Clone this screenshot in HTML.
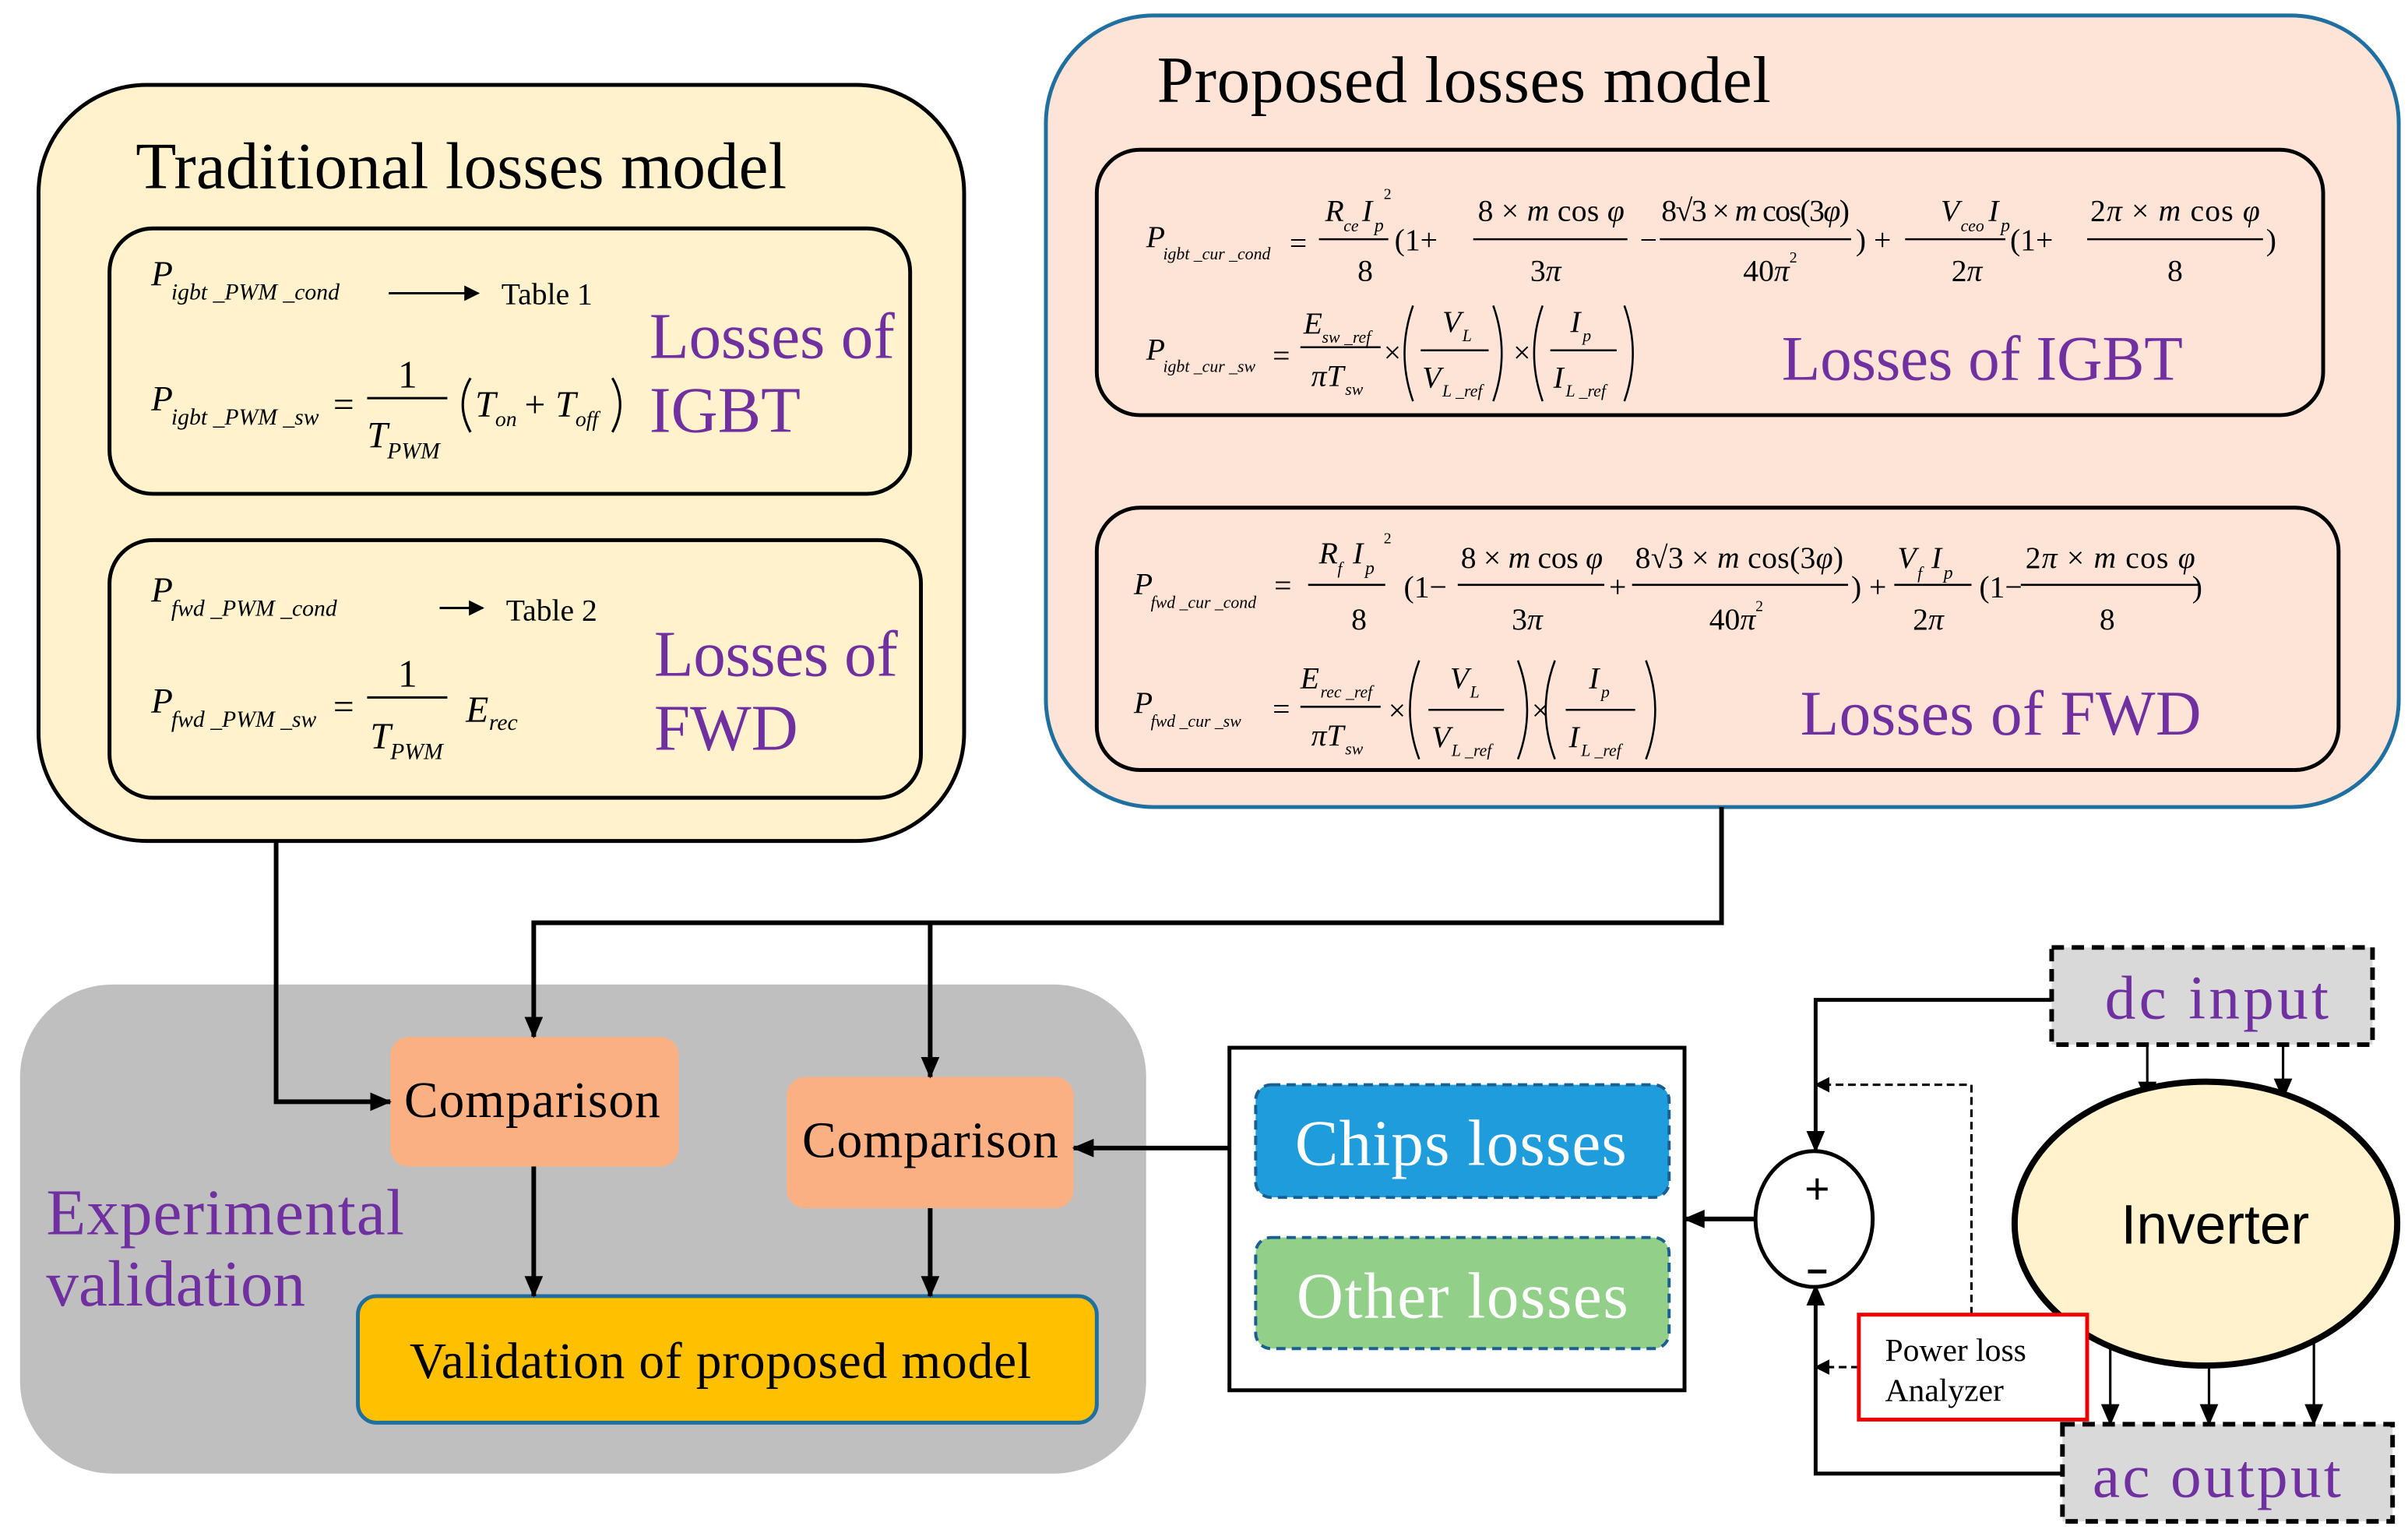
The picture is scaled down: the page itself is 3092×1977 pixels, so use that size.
<!DOCTYPE html>
<html><head><meta charset="utf-8"><style>
html,body{margin:0;padding:0;background:#fff;}
svg{display:block;}
text{font-family:"Liberation Serif",serif;}
.i{font-style:italic;}
.s{font-family:"Liberation Sans",sans-serif;}
.pu{fill:#7030a0;}
</style></head><body>
<svg width="3092" height="1977" viewBox="0 0 1561 998" xmlns="http://www.w3.org/2000/svg">
<defs>
<marker id="a" markerWidth="10" markerHeight="10" refX="9" refY="5" orient="auto" markerUnits="userSpaceOnUse"><path d="M0,0 L10,5 L0,10 z" fill="#000"/></marker>
<marker id="b" markerWidth="14" markerHeight="12" refX="13" refY="6" orient="auto" markerUnits="userSpaceOnUse"><path d="M0,0 L14,6 L0,12 z" fill="#000"/></marker>
</defs>

<!-- Traditional -->
<rect x="25" y="55" width="600" height="490" rx="70" fill="#fff2cc" stroke="#000" stroke-width="2.5"/>
<text x="88" y="122" font-size="43" textLength="422">Traditional losses model</text>
<rect x="71" y="148" width="519" height="172" rx="28" fill="none" stroke="#000" stroke-width="2.5"/>
<rect x="71" y="350" width="526" height="167" rx="28" fill="none" stroke="#000" stroke-width="2.5"/>
<text x="98" y="185" font-size="23" class="i">P</text><text x="111" y="194" font-size="15" class="i">igbt _PWM _cond</text>
<text x="98" y="266" font-size="23" class="i">P</text><text x="111" y="275" font-size="15" class="i">igbt _PWM _sw</text>
<text x="98" y="390" font-size="23" class="i">P</text><text x="111" y="399" font-size="15" class="i">fwd _PWM _cond</text>
<text x="98" y="462" font-size="23" class="i">P</text><text x="111" y="471" font-size="15" class="i">fwd _PWM _sw</text>
<line x1="252" y1="190" x2="310" y2="190" stroke="#000" stroke-width="1.5" marker-end="url(#a)"/>
<text x="325" y="197" font-size="20">Table 1</text>
<line x1="285" y1="394" x2="313" y2="394" stroke="#000" stroke-width="1.5" marker-end="url(#a)"/>
<text x="328" y="402" font-size="20">Table 2</text>
<text x="216" y="270" font-size="24">=</text>
<text x="258" y="251" font-size="25">1</text>
<line x1="238" y1="258" x2="290" y2="258" stroke="#000" stroke-width="1.5"/>
<text x="238" y="290" font-size="24" class="i">T</text><text x="251" y="297" font-size="15" class="i">PWM</text>
<path d="M305,245 Q295,262 305,280" fill="none" stroke="#000" stroke-width="1.6"/>
<text x="308" y="270" font-size="24" class="i">T</text><text x="321" y="276" font-size="14" class="i">on</text>
<text x="340" y="270" font-size="24">+</text>
<text x="360" y="270" font-size="24" class="i">T</text><text x="373" y="276" font-size="14" class="i">off</text>
<path d="M397,245 Q407,262 397,280" fill="none" stroke="#000" stroke-width="1.6"/>
<text x="216" y="466" font-size="24">=</text>
<text x="258" y="445" font-size="25">1</text>
<line x1="238" y1="452" x2="290" y2="452" stroke="#000" stroke-width="1.5"/>
<text x="240" y="485" font-size="24" class="i">T</text><text x="253" y="492" font-size="15" class="i">PWM</text>
<text x="302" y="468" font-size="24" class="i">E</text><text x="317" y="473" font-size="15" class="i">rec</text>
<text x="421" y="232" font-size="42" class="pu" textLength="159">Losses of</text>
<text x="421" y="280" font-size="42" class="pu">IGBT</text>
<text x="424" y="438" font-size="42" class="pu" textLength="158">Losses of</text>
<text x="424" y="486" font-size="42" class="pu">FWD</text>

<!-- Proposed -->
<rect x="678" y="10" width="877" height="513" rx="70" fill="#fde4d6" stroke="#1f6fa0" stroke-width="2.5"/>
<text x="750" y="66" font-size="43" textLength="398">Proposed losses model</text>
<rect x="711" y="97" width="795" height="172" rx="28" fill="none" stroke="#000" stroke-width="2.5"/>
<rect x="711" y="329" width="805" height="170" rx="28" fill="none" stroke="#000" stroke-width="2.5"/>
<g font-size="20" stroke="#000" stroke-width="1.3" fill="none">
<g fill="#000" stroke="none">
<!-- IGBT line1 -->
<text x="743" y="160" class="i">P</text><text x="754" y="168" font-size="11" class="i">igbt _cur _cond</text>
<text x="836" y="164">=</text>
<text x="859" y="143" class="i">R</text><text x="871" y="150" font-size="11" class="i">ce</text><text x="883" y="143" class="i">I</text><text x="891" y="150" font-size="12" class="i">p</text><text x="897" y="129" font-size="10">2</text>
<text x="880" y="182">8</text>
<text x="904" y="162">(1+</text>
<text x="958" y="143" textLength="95">8 × <tspan class="i">m</tspan> cos <tspan class="i">φ</tspan></text>
<text x="992" y="182">3<tspan class="i">π</tspan></text>
<text x="1063" y="162">−</text>
<text x="1077" y="143" textLength="122">8√3 × <tspan class="i">m</tspan> cos(3<tspan class="i">φ</tspan>)</text>
<text x="1130" y="182">40<tspan class="i">π</tspan><tspan font-size="10" dy="-12">2</tspan></text>
<text x="1203" y="162">) +</text>
<text x="1258" y="143" class="i">V</text><text x="1271" y="150" font-size="11" class="i">ceo</text><text x="1289" y="143" class="i">I</text><text x="1297" y="150" font-size="12" class="i">p</text>
<text x="1265" y="182">2<tspan class="i">π</tspan></text>
<text x="1303" y="162">(1+</text>
<text x="1355" y="143" textLength="110">2<tspan class="i">π</tspan> × <tspan class="i">m</tspan> cos <tspan class="i">φ</tspan></text>
<text x="1405" y="182">8</text>
<text x="1469" y="162">)</text>
<!-- IGBT line2 -->
<text x="743" y="233" class="i">P</text><text x="754" y="241" font-size="11" class="i">igbt _cur _sw</text>
<text x="825" y="237">=</text>
<text x="845" y="216" class="i">E</text><text x="857" y="222" font-size="11" class="i">sw _ref</text>
<text x="850" y="250" class="i">πT</text><text x="872" y="256" font-size="11" class="i">sw</text>
<text x="897" y="235">×</text>
<text x="935" y="215" class="i">V</text><text x="948" y="221" font-size="11" class="i">L</text>
<text x="922" y="251" class="i">V</text><text x="935" y="257" font-size="11" class="i">L _ref</text>
<text x="981" y="235">×</text>
<text x="1018" y="215" class="i">I</text><text x="1026" y="221" font-size="11" class="i">p</text>
<text x="1007" y="251" class="i">I</text><text x="1015" y="257" font-size="11" class="i">L _ref</text>
<!-- FWD line1 -->
<text x="735" y="385" class="i">P</text><text x="746" y="394" font-size="11" class="i">fwd _cur _cond</text>
<text x="826" y="386">=</text>
<text x="855" y="365" class="i">R</text><text x="867" y="372" font-size="11" class="i">f</text><text x="877" y="365" class="i">I</text><text x="885" y="372" font-size="12" class="i">p</text><text x="897" y="352" font-size="10">2</text>
<text x="876" y="408">8</text>
<text x="910" y="387">(1−</text>
<text x="947" y="368" textLength="92">8 × <tspan class="i">m</tspan> cos <tspan class="i">φ</tspan></text>
<text x="980" y="408">3<tspan class="i">π</tspan></text>
<text x="1043" y="387">+</text>
<text x="1060" y="368" textLength="135">8√3 × <tspan class="i">m</tspan> cos(3<tspan class="i">φ</tspan>)</text>
<text x="1108" y="408">40<tspan class="i">π</tspan><tspan font-size="10" dy="-12">2</tspan></text>
<text x="1200" y="387">) +</text>
<text x="1230" y="368" class="i">V</text><text x="1243" y="375" font-size="11" class="i">f</text><text x="1252" y="368" class="i">I</text><text x="1260" y="375" font-size="12" class="i">p</text>
<text x="1240" y="408">2<tspan class="i">π</tspan></text>
<text x="1283" y="387">(1−</text>
<text x="1313" y="368" textLength="110">2<tspan class="i">π</tspan> × <tspan class="i">m</tspan> cos <tspan class="i">φ</tspan></text>
<text x="1361" y="408">8</text>
<text x="1421" y="387">)</text>
<!-- FWD line2 -->
<text x="735" y="462" class="i">P</text><text x="746" y="471" font-size="11" class="i">fwd _cur _sw</text>
<text x="825" y="466">=</text>
<text x="843" y="446" class="i">E</text><text x="856" y="452" font-size="11" class="i">rec _ref</text>
<text x="850" y="483" class="i">πT</text><text x="872" y="489" font-size="11" class="i">sw</text>
<text x="900" y="467">×</text>
<text x="940" y="446" class="i">V</text><text x="953" y="452" font-size="11" class="i">L</text>
<text x="928" y="484" class="i">V</text><text x="941" y="490" font-size="11" class="i">L _ref</text>
<text x="993" y="467">×</text>
<text x="1030" y="446" class="i">I</text><text x="1038" y="452" font-size="11" class="i">p</text>
<text x="1017" y="484" class="i">I</text><text x="1025" y="490" font-size="11" class="i">L _ref</text>
</g>
<line x1="855" y1="155" x2="900" y2="155"/>
<line x1="955" y1="155" x2="1055" y2="155"/>
<line x1="1076" y1="155" x2="1200" y2="155"/>
<line x1="1235" y1="155" x2="1300" y2="155"/>
<line x1="1353" y1="155" x2="1467" y2="155"/>
<line x1="843" y1="225" x2="895" y2="225"/>
<line x1="921" y1="227" x2="965" y2="227"/>
<line x1="1005" y1="227" x2="1048" y2="227"/>
<path d="M916,198 Q905,229 916,260"/><path d="M968,198 Q979,229 968,260"/>
<path d="M1000,198 Q989,229 1000,260"/><path d="M1053,198 Q1064,229 1053,260"/>
<line x1="848" y1="379" x2="898" y2="379"/>
<line x1="945" y1="379" x2="1040" y2="379"/>
<line x1="1058" y1="379" x2="1198" y2="379"/>
<line x1="1228" y1="379" x2="1278" y2="379"/>
<line x1="1310" y1="379" x2="1425" y2="379"/>
<line x1="843" y1="458" x2="895" y2="458"/>
<line x1="926" y1="460" x2="975" y2="460"/>
<line x1="1015" y1="460" x2="1060" y2="460"/>
<path d="M920,428 Q908,460 920,492"/><path d="M984,428 Q996,460 984,492"/>
<path d="M1008,428 Q996,460 1008,492"/><path d="M1067,428 Q1079,460 1067,492"/>
</g>
<text x="1155" y="246" font-size="41" class="pu" textLength="260">Losses of IGBT</text>
<text x="1167" y="476" font-size="41" class="pu" textLength="260">Losses of FWD</text>

<!-- Experimental -->
<rect x="13" y="638" width="730" height="317" rx="60" fill="#bfbfbf"/>
<rect x="253" y="672" width="187" height="84" rx="12" fill="#fbb084"/>
<text x="345" y="724" font-size="33" text-anchor="middle" textLength="166">Comparison</text>
<rect x="510" y="698" width="186" height="85" rx="12" fill="#fbb084"/>
<text x="603" y="750" font-size="33" text-anchor="middle" textLength="166">Comparison</text>
<rect x="232" y="840" width="479" height="82" rx="12" fill="#ffc000" stroke="#1f6fa0" stroke-width="2.5"/>
<text x="467" y="893" font-size="33" text-anchor="middle" textLength="403">Validation of proposed model</text>
<text x="30" y="800" font-size="42" class="pu" textLength="232">Experimental</text>
<text x="30" y="846" font-size="42" class="pu">validation</text>

<g stroke="#000" stroke-width="3" fill="none">
<polyline points="179,545 179,714 253,714" marker-end="url(#b)"/>
<polyline points="1116,523 1116,598 346,598 346,672" marker-end="url(#b)"/>
<line x1="603" y1="598" x2="603" y2="698" marker-end="url(#b)"/>
<line x1="346" y1="756" x2="346" y2="840" marker-end="url(#b)"/>
<line x1="603" y1="783" x2="603" y2="840" marker-end="url(#b)"/>
<line x1="820" y1="744" x2="696" y2="744" marker-end="url(#b)"/>
<line x1="1138" y1="790" x2="1092" y2="790" marker-end="url(#b)"/>
<polyline points="1330,648 1177,648 1177,746" stroke-width="2.5" marker-end="url(#b)"/>
<polyline points="1337,955 1177,955 1177,833" stroke-width="2.5" marker-end="url(#b)"/>
</g>

<rect x="797" y="679" width="295" height="222" fill="#fff" stroke="#000" stroke-width="2.5"/>
<rect x="814" y="703" width="268" height="73" rx="10" fill="#1e9cdc" stroke="#1a5f8f" stroke-width="2" stroke-dasharray="6,4"/>
<text x="947" y="755" font-size="42" fill="#fff" text-anchor="middle" textLength="215">Chips losses</text>
<rect x="814" y="802" width="268" height="72" rx="10" fill="#92d08a" stroke="#1a5f8f" stroke-width="2" stroke-dasharray="6,4"/>
<text x="948" y="854" font-size="42" fill="#fff" text-anchor="middle" textLength="215">Other losses</text>

<ellipse cx="1176" cy="790" rx="38" ry="44" fill="#fff" stroke="#000" stroke-width="2.5"/>
<text x="1178" y="780" font-size="28" text-anchor="middle" class="s">+</text>
<line x1="1172" y1="824" x2="1184" y2="824" stroke="#000" stroke-width="2.5"/>

<rect x="1330" y="614" width="208" height="63" fill="#d9d9d9" stroke="#000" stroke-width="3" stroke-dasharray="8,5"/>
<text x="1437" y="660" font-size="40" text-anchor="middle" class="pu" textLength="145">dc input</text>
<rect x="1337" y="923" width="214" height="63" fill="#d9d9d9" stroke="#000" stroke-width="3" stroke-dasharray="8,5"/>
<text x="1437" y="970" font-size="40" text-anchor="middle" class="pu" textLength="161">ac output</text>

<g stroke="#000" stroke-width="1.6" fill="none">
<polyline points="1278,852 1278,703 1177,703" stroke-dasharray="5,3" marker-end="url(#a)"/>
<line x1="1205" y1="886" x2="1177" y2="886" stroke-dasharray="5,3" marker-end="url(#a)"/>
<line x1="1392" y1="678" x2="1392" y2="714" marker-end="url(#b)"/>
<line x1="1480" y1="678" x2="1480" y2="712" marker-end="url(#b)"/>
<line x1="1368" y1="860" x2="1368" y2="923" marker-end="url(#b)"/>
<line x1="1432" y1="868" x2="1432" y2="923" marker-end="url(#b)"/>
<line x1="1500" y1="860" x2="1500" y2="923" marker-end="url(#b)"/>
</g>
<ellipse cx="1430" cy="793" rx="124" ry="92" fill="#fff2cc" stroke="#000" stroke-width="4"/>
<text x="1436" y="806" font-size="36" text-anchor="middle" class="s">Inverter</text>
<rect x="1205" y="852" width="148" height="68" fill="#fff" stroke="#e00" stroke-width="2.5"/>
<text x="1222" y="882" font-size="21">Power loss</text>
<text x="1222" y="908" font-size="21">Analyzer</text>
</svg>
</body></html>
